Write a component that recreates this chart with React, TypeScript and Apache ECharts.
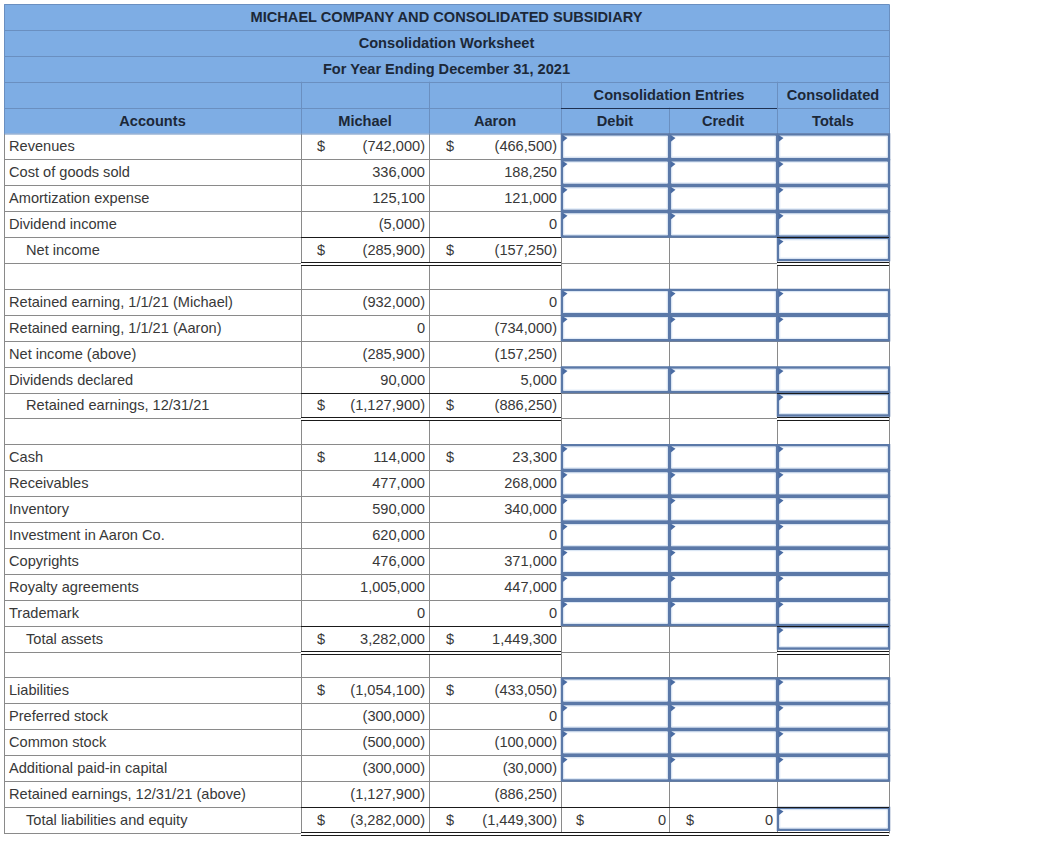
import React, { useEffect, useRef } from "react";
import * as echarts from "echarts";

// ---------- data ----------
const titleLines = [
  "MICHAEL COMPANY AND CONSOLIDATED SUBSIDIARY",
  "Consolidation Worksheet",
  "For Year Ending December 31, 2021",
];
const columnHeads = ["Accounts", "Michael", "Aaron", "Debit", "Credit", "Totals"];
const groupHeads = ["Consolidation Entries", "Consolidated"];

const accounts = [
  "Revenues", "Cost of goods sold", "Amortization expense", "Dividend income", "Net income", "",
  "Retained earning, 1/1/21 (Michael)", "Retained earning, 1/1/21 (Aaron)", "Net income (above)", "Dividends declared", "Retained earnings, 12/31/21", "",
  "Cash", "Receivables", "Inventory", "Investment in Aaron Co.", "Copyrights", "Royalty agreements", "Trademark", "Total assets", "",
  "Liabilities", "Preferred stock", "Common stock", "Additional paid-in capital", "Retained earnings, 12/31/21 (above)", "Total liabilities and equity",
];
const michael: (number | null)[] = [
  -742000, 336000, 125100, -5000, -285900, null,
  -932000, 0, -285900, 90000, -1127900, null,
  114000, 477000, 590000, 620000, 476000, 1005000, 0, 3282000, null,
  -1054100, -300000, -500000, -300000, -1127900, -3282000,
];
const aaron: (number | null)[] = [
  -466500, 188250, 121000, 0, -157250, null,
  0, -734000, -157250, 5000, -886250, null,
  23300, 268000, 340000, 0, 371000, 447000, 0, 1449300, null,
  -433050, 0, -100000, -30000, -886250, -1449300,
];
const debitTotal = 0;
const creditTotal = 0;
// row kinds: in = debit/credit/total inputs, tot = subtotal row, none = no inputs, blank, final
const rowKinds = [
  "in", "in", "in", "in", "tot", "blank",
  "in", "in", "none", "in", "tot", "blank",
  "in", "in", "in", "in", "in", "in", "in", "tot", "blank",
  "in", "in", "in", "in", "none", "final",
];
const dollarRows = [0, 4, 10, 12, 19, 21, 26];

// ---------- layout ----------
const X = [4, 301, 429, 561, 669, 777, 889];
const Y0 = 4;
const RH = 25.9;
const HEADER_ROWS = 5;
const rowTop = (i: number) => Y0 + i * RH;
const px = (v: number) => Math.round(v) + 0.5;

const FONT = "Arial, 'Liberation Sans', sans-serif";
const FS = 14.6;
const HEAD_BG = "#7eade4";
const HEAD_LINE = "#6a8fc0";
const HEAD_TEXT = "#1c2838";
const GRID = "#8a8a8a";
const BODY_TEXT = "#383838";
const BOX = "#5b79a8";
const DARK = "#1a1a1a";

function fmt(v: number) {
  const s = Math.abs(v).toLocaleString("en-US");
  return v < 0 ? `(${s})` : s;
}

function txt(text: string, x: number, y: number, align: string, bold: boolean, color: string) {
  return {
    type: "text",
    z: 10,
    style: {
      text,
      x,
      y,
      font: `${bold ? "bold " : ""}${FS}px ${FONT}`,
      fill: color,
      align,
      verticalAlign: "middle",
      textAlign: align,
      textVerticalAlign: "middle",
    },
  };
}

function line(x1: number, y1: number, x2: number, y2: number, stroke: string, z = 2, w = 1) {
  return { type: "line", z, shape: { x1, y1, x2, y2 }, style: { stroke, lineWidth: w } };
}

function inputBox(c: number, r: number, shrink = 0) {
  const x = X[c];
  const w = X[c + 1] - X[c];
  const y = rowTop(r);
  const h = RH - shrink;
  return [
    {
      type: "rect",
      z: 5,
      shape: { x: x + 1, y: y + 1, width: w - 1, height: h - 1.5 },
      style: { fill: "#ffffff", stroke: BOX, lineWidth: 2.5 },
    },
    {
      type: "rect",
      z: 6,
      shape: { x: x + 2.8, y: y + 2.8, width: w - 4.6, height: h - 5.2 },
      style: { fill: "none", stroke: "#dce8f7", lineWidth: 1 },
    },
    {
      type: "polygon",
      z: 7,
      shape: { points: [[x + 1.5, y + 1.5], [x + 6.5, y + 4.5], [x + 1.5, y + 8.5]] },
      style: { fill: "#4a6ca3" },
    },
  ];
}

function buildGraphic() {
  const els: any[] = [];
  const top = rowTop(0);
  const headBottom = rowTop(HEADER_ROWS);
  const bottom = rowTop(HEADER_ROWS + accounts.length);

  // header background
  els.push({
    type: "rect",
    z: 1,
    shape: { x: X[0], y: top, width: X[6] - X[0], height: headBottom - top },
    style: { fill: HEAD_BG },
  });
  // header horizontal lines
  for (let i = 1; i <= 4; i++) {
    els.push(line(X[0], px(rowTop(i)), X[6], px(rowTop(i)), HEAD_LINE, 3));
  }
  // dark line under Consolidation Entries
  els.push(line(X[3], px(rowTop(4)), X[5], px(rowTop(4)), "#1f3050", 4));
  // header vertical lines
  [1, 2, 3, 5].forEach((c) => els.push(line(px(X[c]), rowTop(3), px(X[c]), headBottom, HEAD_LINE, 3)));
  els.push(line(px(X[4]), rowTop(4), px(X[4]), headBottom, HEAD_LINE, 3));
  // header outer border
  els.push({
    type: "rect",
    z: 3,
    shape: { x: px(X[0]), y: px(top), width: X[6] - X[0], height: headBottom - top },
    style: { fill: "none", stroke: HEAD_LINE, lineWidth: 1 },
  });

  // header texts
  const midAll = (X[0] + X[6]) / 2;
  titleLines.forEach((t, i) => els.push(txt(t, midAll, rowTop(i) + RH / 2, "center", true, HEAD_TEXT)));
  els.push(txt(groupHeads[0], (X[3] + X[5]) / 2, rowTop(3) + RH / 2, "center", true, HEAD_TEXT));
  els.push(txt(groupHeads[1], (X[5] + X[6]) / 2, rowTop(3) + RH / 2, "center", true, HEAD_TEXT));
  columnHeads.forEach((h, c) => els.push(txt(h, (X[c] + X[c + 1]) / 2, rowTop(4) + RH / 2, "center", true, HEAD_TEXT)));

  // body grid
  for (let i = HEADER_ROWS + 1; i <= HEADER_ROWS + accounts.length; i++) {
    els.push(line(X[0], px(rowTop(i)), X[6], px(rowTop(i)), GRID, 2));
  }
  X.forEach((x) => els.push(line(px(x), headBottom, px(x), px(bottom), GRID, 2)));

  // rows
  accounts.forEach((name, k) => {
    const r = HEADER_ROWS + k;
    const cy = rowTop(r) + RH / 2;
    const kind = rowKinds[k];
    const indent = kind === "tot" || kind === "final";
    if (name) els.push(txt(name, indent ? 26 : 9, cy, "left", false, BODY_TEXT));
    const hasDollar = dollarRows.includes(k);
    if (michael[k] !== null) {
      els.push(txt(fmt(michael[k] as number), 425, cy, "right", false, BODY_TEXT));
      if (hasDollar) els.push(txt("$", 317, cy, "left", false, BODY_TEXT));
    }
    if (aaron[k] !== null) {
      els.push(txt(fmt(aaron[k] as number), 557, cy, "right", false, BODY_TEXT));
      if (hasDollar) els.push(txt("$", 446, cy, "left", false, BODY_TEXT));
    }
    if (kind === "in") {
      els.push(...inputBox(3, r), ...inputBox(4, r), ...inputBox(5, r));
    }
    if (kind === "tot" || kind === "final") {
      els.push(...inputBox(5, r, 2.5));
      const spans = kind === "final" ? [[1, 6]] : [[1, 3], [5, 6]];
      const yt = px(rowTop(r));
      const yb = Math.round(rowTop(r + 1));
      spans.forEach(([a, b]) => {
        els.push(line(X[a], yt, X[b], yt, DARK, 8));
        els.push({
          type: "rect",
          z: 8,
          shape: { x: X[a], y: yb - 1, width: X[b] - X[a], height: 4 },
          style: { fill: "#ffffff" },
        });
        els.push(line(X[a], yb - 0.5, X[b], yb - 0.5, DARK, 9));
        els.push(line(X[a], yb + 2.5, X[b], yb + 2.5, DARK, 9));
      });
      if (kind === "final") {
        els.push(txt("$", 576, cy, "left", false, BODY_TEXT));
        els.push(txt(String(debitTotal), 666, cy, "right", false, BODY_TEXT));
        els.push(txt("$", 686, cy, "left", false, BODY_TEXT));
        els.push(txt(String(creditTotal), 773, cy, "right", false, BODY_TEXT));
      }
    }
  });
  return els;
}

export default function App() {
  const ref = useRef<HTMLDivElement>(null);
  useEffect(() => {
    if (!ref.current) return;
    const chart = echarts.init(ref.current, undefined, { renderer: "svg" });
    chart.setOption({
      animation: false,
      backgroundColor: "#ffffff",
      graphic: { elements: buildGraphic() },
    });
    return () => chart.dispose();
  }, []);
  return (
    <div
      ref={ref}
      style={{ position: "absolute", left: 0, top: 0, width: 1041, height: 845, background: "#fff" }}
    />
  );
}
